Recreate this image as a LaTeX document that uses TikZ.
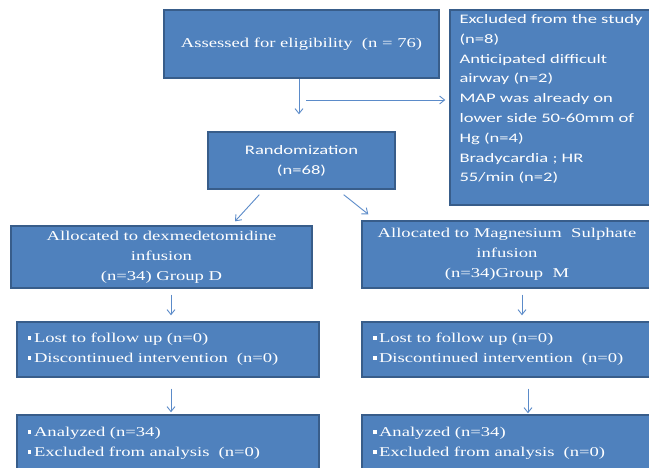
\documentclass[tikz,border=0pt]{standalone}
\usepackage{fontspec}
\setmainfont{Liberation Serif}[FakeStretch=1.38]
\newfontfamily\calib{Carlito}[FakeStretch=1.43]
\usetikzlibrary{arrows.meta}
\definecolor{boxfill}{HTML}{4F81BD}
\definecolor{boxline}{HTML}{385D8A}
\definecolor{arrowc}{HTML}{5B8BC9}
\newcommand{\sqb}{\raisebox{0.22em}{\rule{3.5pt}{3.5pt}}\hspace{2.5pt}}
\tikzset{
  box/.style={draw=boxline, line width=1.4pt, fill=boxfill, text=white, inner sep=0pt, rectangle},
  serif/.style={font=\fontsize{13.5}{20}\selectfont},
  sans/.style={font=\calib\fontsize{13}{19.8}\selectfont},
  arr/.style={draw=arrowc, line width=0.9pt, -{Straight Barb[length=5pt,width=8pt]}}
}
\begin{document}
\begin{tikzpicture}
\useasboundingbox (0,0) rectangle (649pt,-468pt);
\fill[white] (0,0) rectangle (649pt,-468pt);
\clip (0,0) rectangle (649pt,-468pt);

% boxes
\node[box, serif, minimum width=275pt, minimum height=68pt, align=center] (assess) at (301.5pt,-44pt) {Assessed for eligibility\ \ (n = 76)};
\node[box, minimum width=202pt, minimum height=195pt] (excl) at (551pt,-107.5pt) {};
\node[sans, text=white, anchor=north west, inner sep=0pt, align=left] (excltxt) at ([xshift=10pt,yshift=-5pt]excl.north west)
  {Excluded from the study\\(n=8)\\Anticipated difficult\\airway (n=2)\\MAP was already on\\lower side 50-60mm of\\Hg (n=4)\\Bradycardia ; HR\\55/min (n=2)};
\node[box, sans, minimum width=187pt, minimum height=57pt, align=center] (rand) at (301.5pt,-160.5pt) {Randomization\\(n=68)};

\node[box, serif, minimum width=301pt, minimum height=62pt, align=center] (allocD) at (161.5pt,-257pt) {Allocated to dexmedetomidine\\infusion\\(n=34) Group D};
\node[box, serif, minimum width=290pt, minimum height=67pt, align=center] (allocM) at (507pt,-254.5pt) {Allocated to Magnesium\ \ Sulphate\\infusion\\(n=34)Group\ \ M};

\node[box, serif, minimum width=302pt, minimum height=55pt, text width=280pt, align=left] (lostD) at (168pt,-349.5pt) {\sqb Lost to follow up (n=0)\\\sqb Discontinued intervention\ \ (n=0)};
\node[box, serif, minimum width=290pt, minimum height=55pt, text width=268pt, align=left] (lostM) at (507pt,-349.5pt) {\sqb Lost to follow up (n=0)\\\sqb Discontinued intervention\ \ (n=0)};

\node[box, serif, minimum width=302pt, minimum height=57pt, text width=280pt, align=left] (anaD) at (168pt,-443.5pt) {\sqb Analyzed (n=34)\\\sqb Excluded from analysis\ \ (n=0)};
\node[box, serif, minimum width=290pt, minimum height=57pt, text width=268pt, align=left] (anaM) at (507pt,-443.5pt) {\sqb Analyzed (n=34)\\\sqb Excluded from analysis\ \ (n=0)};

% connectors
\draw[arr, shorten >=17pt] ([xshift=-2.5pt]assess.south) -- ([xshift=-2.5pt]rand.north);
\coordinate (hs) at (306pt,-100pt);
\draw[arr, shorten >=4pt] (hs) -- (hs -| excl.west);
\draw[arr] ([xshift=52pt,yshift=-5pt]rand.south west) -- ([xshift=73.5pt,yshift=4pt]allocD.north);
\draw[arr] ([xshift=-52pt,yshift=-5pt]rand.south east) -- ([xshift=7pt,yshift=6pt]allocM.north west);
\draw[arr] ([xshift=9.5pt,yshift=-6pt]allocD.south) -- ([xshift=3pt,yshift=6pt]lostD.north);
\draw[arr] ([xshift=15pt,yshift=-6pt]allocM.south) -- ([xshift=15pt,yshift=6pt]lostM.north);
\draw[arr] ([xshift=3pt,yshift=-11pt]lostD.south) -- ([xshift=3pt,yshift=2pt]anaD.north);
\draw[arr] ([xshift=21pt,yshift=-11pt]lostM.south) -- ([xshift=21pt,yshift=1pt]anaM.north);
\end{tikzpicture}
\end{document}
